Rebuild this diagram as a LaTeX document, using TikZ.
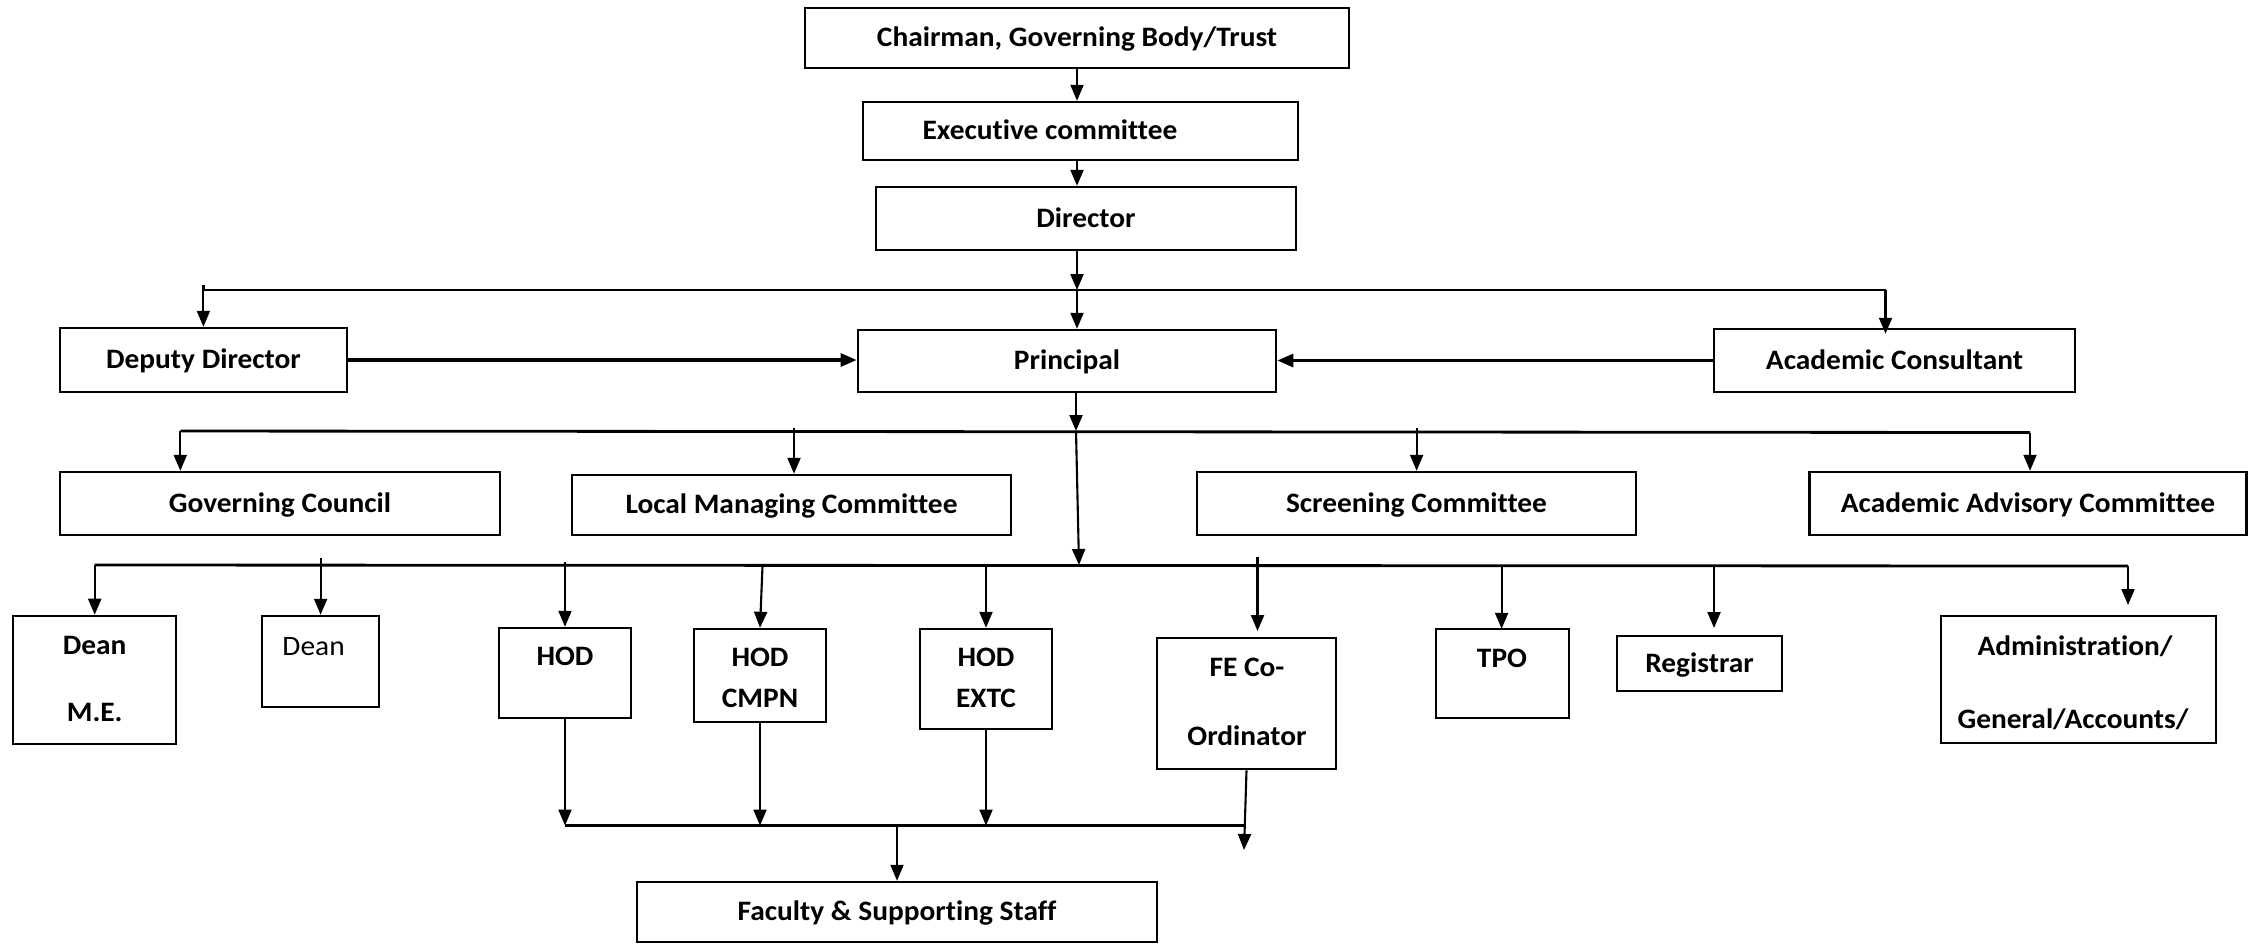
\documentclass[tikz,border=0pt]{standalone}
\usepackage{fontspec}
\setmainfont{Carlito}[Ligatures=NoCommon, FakeStretch=1.045]
\usetikzlibrary{arrows.meta}
\tikzset{
  box/.style={draw, line width=0.7pt, inner sep=0pt, font=\fontsize{8}{9.5}\selectfont\bfseries, text height=5.05pt, text depth=0pt},
  lbl/.style={inner sep=0pt, font=\fontsize{8}{9.5}\selectfont\bfseries, text height=5.05pt, text depth=0pt},
  lblr/.style={inner sep=0pt, font=\fontsize{8}{9.5}\selectfont, text height=5.05pt, text depth=0pt},
  conn/.style={line width=0.6pt, -{Triangle[length=0.16cm,width=0.13cm]}},
  bus/.style={line width=0.8pt},
}
\begin{document}
\begin{tikzpicture}[x=0.01cm,y=-0.01cm]
\useasboundingbox (0,0) rectangle (2249,944);
% top chain
\node[box, minimum width=5.44cm, minimum height=0.60cm] (chair) at (1077,38) {Chairman, Governing Body/Trust};
\node[box, minimum width=4.35cm, minimum height=0.58cm] (exec) at (1080.5,131) {};
\node[lbl] at (1050,131) {Executive committee};
\node[box, minimum width=4.20cm, minimum height=0.63cm] (dir) at (1086,218.5) {Director};
% second level
\node[box, minimum width=2.87cm, minimum height=0.64cm] (dep) at (203.5,360) {Deputy Director};
\node[box, minimum width=4.18cm, minimum height=0.62cm] (prin) at (1067,361) {Principal};
\node[box, minimum width=3.61cm, minimum height=0.63cm] (ac) at (1894.5,360.5) {Academic Consultant};
% committees
\node[box, minimum width=4.40cm, minimum height=0.63cm] (gc) at (280,503.5) {Governing Council};
\node[box, minimum width=4.39cm, minimum height=0.60cm] (lmc) at (791.5,505) {Local Managing Committee};
\node[box, minimum width=4.39cm, minimum height=0.63cm] (sc) at (1416.5,503.5) {Screening Committee};
\node[box, minimum width=4.37cm, minimum height=0.63cm] (aac) at (2028,503.5) {Academic Advisory Committee};
% lower boxes
\node[box, minimum width=1.63cm, minimum height=1.28cm] (deanme) at (94.5,680) {};
\node[lbl] at (94.7,646) {Dean};
\node[lbl] at (94.7,712.7) {M.E.};
\node[box, minimum width=1.17cm, minimum height=0.91cm] (dean) at (320.5,661.5) {};
\node[lblr] at (313.6,647) {Dean};
\node[box, minimum width=1.32cm, minimum height=0.90cm] (hod) at (565,673) {};
\node[lbl] at (565,657) {HOD};
\node[box, minimum width=1.32cm, minimum height=0.93cm] (hodc) at (760,675.5) {};
\node[lbl] at (760,658) {HOD};
\node[lbl] at (760,699) {CMPN};
\node[box, minimum width=1.32cm, minimum height=1.00cm] (hode) at (986,679) {};
\node[lbl] at (986,658) {HOD};
\node[lbl] at (986,699) {EXTC};
\node[box, minimum width=1.79cm, minimum height=1.31cm] (fe) at (1246.5,703.5) {};
\node[lbl] at (1247,668) {FE Co-};
\node[lbl] at (1247,737) {Ordinator};
\node[box, minimum width=1.33cm, minimum height=0.89cm] (tpo) at (1502.5,673.5) {};
\node[lbl] at (1502,659) {TPO};
\node[box, minimum width=1.65cm, minimum height=0.55cm] (reg) at (1699.5,663.5) {Registrar};
\node[box, minimum width=2.75cm, minimum height=1.27cm] (adm) at (2078.5,679.5) {};
\node[lbl] at (2075,647) {Administration/};
\node[lbl] at (2073,720) {General/Accounts/};
\node[box, minimum width=5.20cm, minimum height=0.60cm] (fac) at (897,912) {Faculty \& Supporting Staff};
% coordinates
\coordinate (b1L) at (203.4,290);
\coordinate (b1R) at (1885.5,290);
\coordinate (b1M) at (1077,290);
\coordinate (b2L) at (180.3,431);
\coordinate (b2R) at (2030,432.5);
\coordinate (b2M) at (1076,431);
\coordinate (b3L) at (94.7,565);
\coordinate (b3R) at (2128,566);
\coordinate (b3M) at (1079,565);
\coordinate (tLMC) at (794,428);
\coordinate (tSC) at (1416.6,428);
\coordinate (tDean) at (320.6,558);
\coordinate (tHod) at (565,562);
\coordinate (tHodc) at (762.5,566);
\coordinate (tHode) at (986,566);
\coordinate (tFe) at (1257.5,557);
\coordinate (eFe) at (1257.5,631);
\coordinate (tTpo) at (1501.6,566);
\coordinate (tReg) at (1714,566);
\coordinate (eReg) at (1714,628);
\coordinate (eAdm) at (2128,605);
\coordinate (b4L) at (565,825.5);
\coordinate (b4R) at (1244,825.5);
\coordinate (b4M) at (897,825.5);
\coordinate (eFeLow) at (1244,850);
% top connectors
\draw[conn] (chair.south) -- (chair.south |- exec.north);
\draw[conn] (chair.south |- exec.south) -- (chair.south |- dir.north);
\draw[bus] (203.4,285) -- (b1L) -- (b1R);
\draw[conn] (dir.south -| b1M) -- (b1M);
\draw[conn] (b1M) -- (b1M |- prin.north);
\draw[conn] (b1L) -- (b1L |- dep.north);
\draw[conn] (b1R) -- ([yshift=-0.06cm]b1R |- ac.north);
\draw[conn, line width=0.9pt] (dep.east) -- (prin.west |- dep.east);
\draw[conn, line width=0.9pt] (ac.west) -- (prin.east |- ac.west);
% committees bus
\draw[bus] (b2L) -- (b2R);
\draw[conn] (prin.south -| b2M) -- (b2M);
\draw[conn] (b2L) -- (b2L |- gc.north);
\draw[conn] (b2R) -- (b2R |- aac.north);
\draw[conn] (tLMC) -- (tLMC |- lmc.north);
\draw[conn] (tSC) -- (tSC |- sc.north);
% lower bus
\draw[conn] (b2M) -- (b3M);
\draw[bus] (b3L) -- (b3R);
\draw[conn] (b3L) -- (b3L |- deanme.north);
\draw[conn] (tDean) -- (tDean |- dean.north);
\draw[conn] (tHod) -- (tHod |- hod.north);
\draw[conn] (tHodc) -- (hodc.north);
\draw[conn] (tHode) -- (tHode |- hode.north);
\draw[conn] (tFe) -- (eFe);
\draw[conn] (tTpo) -- ([yshift=-0.01cm]tTpo |- tpo.north);
\draw[conn] (tReg) -- (eReg);
\draw[conn] (b3R) -- (eAdm);
% bottom
\draw[conn] (hod.south) -- (b4L);
\draw[conn] (hodc.south) -- (hodc.south |- b4L);
\draw[conn] (hode.south) -- (hode.south |- b4L);
\draw[bus] (b4L) -- (b4R);
\draw[conn] (fe.south) -- (eFeLow);
\draw[conn] (b4M) -- (b4M |- fac.north);
\end{tikzpicture}
\end{document}
